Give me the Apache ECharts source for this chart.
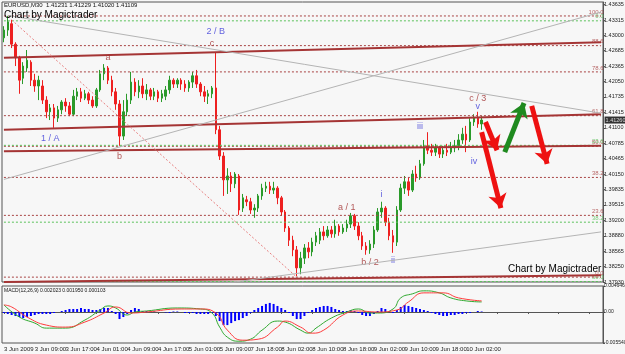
<!DOCTYPE html>
<html>
<head>
<meta charset="utf-8">
<script src="https://cdn.jsdelivr.net/npm/echarts@6/dist/echarts.min.js"></script>
<style>
  html, body { margin: 0; padding: 0; background: #f7f7f7; }
  #main { width: 625px; height: 354px; }
</style>
</head>
<body>
<div id="main"></div>
<script>
// time axis labels, one every 8 bars
var timeLabels = ['3 Jun 2009', '3 Jun 09:00', '3 Jun 17:00', '4 Jun 01:00', '4 Jun 09:00', '4 Jun 17:00',
  '5 Jun 01:00', '5 Jun 09:00', '7 Jun 18:00', '8 Jun 02:00', '8 Jun 10:00', '8 Jun 18:00',
  '9 Jun 02:00', '9 Jun 10:00', '9 Jun 18:00', '10 Jun 02:00'];

var priceTicks = ['1.37930', '1.38250', '1.38565', '1.38880', '1.39200', '1.39515', '1.39835', '1.40150',
  '1.40465', '1.40785', '1.41100', '1.41415', '1.41735', '1.42050', '1.42365', '1.42685', '1.43000',
  '1.43315', '1.43635'];

// open, close, low, high
var candles = [
  [1.4295,1.4311,1.4286,1.4319],[1.4311,1.4328,1.4299,1.4340],[1.4324,1.4282,1.4274,1.4332],
  [1.4282,1.4254,1.4237,1.4286],[1.4254,1.4208,1.4180,1.4258],[1.4212,1.4237,1.4200,1.4245],
  [1.4233,1.4249,1.4225,1.4270],[1.4245,1.4208,1.4196,1.4249],[1.4208,1.4196,1.4184,1.4221],
  [1.4196,1.4208,1.4167,1.4217],[1.4196,1.4167,1.4159,1.4208],[1.4167,1.4143,1.4130,1.4175],
  [1.4143,1.4151,1.4126,1.4159],[1.4151,1.4130,1.4110,1.4159],[1.4130,1.4147,1.4122,1.4155],
  [1.4147,1.4163,1.4138,1.4167],[1.4163,1.4155,1.4143,1.4171],[1.4155,1.4138,1.4134,1.4163],
  [1.4138,1.4175,1.4134,1.4188],[1.4175,1.4184,1.4167,1.4192],[1.4184,1.4171,1.4163,1.4192],
  [1.4171,1.4180,1.4167,1.4188],[1.4180,1.4167,1.4159,1.4184],[1.4167,1.4155,1.4151,1.4175],
  [1.4155,1.4188,1.4151,1.4192],[1.4188,1.4221,1.4184,1.4229],[1.4221,1.4233,1.4208,1.4241],
  [1.4233,1.4208,1.4200,1.4237],[1.4208,1.4184,1.4175,1.4217],[1.4184,1.4159,1.4147,1.4192],
  [1.4159,1.4093,1.4073,1.4167],[1.4093,1.4143,1.4085,1.4167],[1.4143,1.4167,1.4134,1.4180],
  [1.4167,1.4204,1.4159,1.4225],[1.4204,1.4184,1.4175,1.4212],[1.4184,1.4196,1.4171,1.4208],
  [1.4196,1.4180,1.4171,1.4212],[1.4180,1.4188,1.4167,1.4200],[1.4188,1.4175,1.4167,1.4192],
  [1.4175,1.4184,1.4167,1.4192],[1.4184,1.4171,1.4163,1.4188],[1.4171,1.4180,1.4163,1.4188],
  [1.4175,1.4188,1.4167,1.4196],[1.4188,1.4208,1.4180,1.4217],[1.4208,1.4200,1.4192,1.4212],
  [1.4200,1.4208,1.4192,1.4212],[1.4208,1.4200,1.4188,1.4212],[1.4200,1.4192,1.4184,1.4208],
  [1.4192,1.4204,1.4184,1.4208],[1.4204,1.4217,1.4192,1.4225],[1.4217,1.4200,1.4192,1.4229],
  [1.4200,1.4184,1.4175,1.4204],[1.4184,1.4175,1.4163,1.4196],[1.4175,1.4180,1.4159,1.4188],
  [1.4180,1.4192,1.4171,1.4196],[1.4192,1.4106,1.4097,1.4266],[1.4106,1.4052,1.4044,1.4114],
  [1.4052,1.4003,1.3970,1.4060],[1.4003,1.4011,1.3974,1.4027],[1.4011,1.3995,1.3978,1.4019],
  [1.3995,1.4015,1.3986,1.4019],[1.4011,1.3941,1.3931,1.4015],[1.3945,1.3966,1.3937,1.3974],
  [1.3962,1.3958,1.3949,1.3970],[1.3958,1.3941,1.3933,1.3966],[1.3941,1.3945,1.3925,1.3953],
  [1.3945,1.3970,1.3937,1.3974],[1.3970,1.3986,1.3962,1.3995],[1.3986,1.3990,1.3978,1.3999],
  [1.3990,1.3982,1.3974,1.3999],[1.3982,1.3986,1.3974,1.3999],[1.3986,1.3966,1.3953,1.3990],
  [1.3966,1.3937,1.3929,1.3970],[1.3937,1.3904,1.3896,1.3941],[1.3904,1.3879,1.3867,1.3908],
  [1.3879,1.3859,1.3846,1.3888],[1.3859,1.3822,1.3805,1.3867],[1.3822,1.3842,1.3809,1.3855],
  [1.3842,1.3863,1.3830,1.3871],[1.3863,1.3855,1.3842,1.3875],[1.3855,1.3875,1.3846,1.3884],
  [1.3875,1.3888,1.3867,1.3896],[1.3879,1.3896,1.3871,1.3904],[1.3896,1.3888,1.3879,1.3908],
  [1.3888,1.3900,1.3884,1.3908],[1.3900,1.3892,1.3884,1.3908],[1.3892,1.3908,1.3884,1.3921],
  [1.3908,1.3896,1.3888,1.3912],[1.3896,1.3904,1.3892,1.3912],[1.3904,1.3912,1.3896,1.3921],
  [1.3912,1.3929,1.3904,1.3935],[1.3929,1.3908,1.3900,1.3933],[1.3908,1.3888,1.3879,1.3916],
  [1.3888,1.3867,1.3859,1.3896],[1.3867,1.3859,1.3849,1.3875],[1.3859,1.3871,1.3851,1.3879],
  [1.3871,1.3900,1.3863,1.3908],[1.3900,1.3937,1.3896,1.3945],[1.3937,1.3945,1.3925,1.3958],
  [1.3945,1.3916,1.3908,1.3949],[1.3916,1.3888,1.3879,1.3925],[1.3888,1.3875,1.3853,1.3900],
  [1.3875,1.3941,1.3867,1.3949],[1.3941,1.3986,1.3937,1.3995],[1.3986,1.3999,1.3974,1.4011],
  [1.3999,1.3982,1.3970,1.4007],[1.3982,1.4015,1.3978,1.4023],[1.4015,1.4007,1.3999,1.4032],
  [1.4007,1.4036,1.4003,1.4044],[1.4036,1.4069,1.4032,1.4085],[1.4073,1.4064,1.4056,1.4101],
  [1.4064,1.4060,1.4052,1.4077],[1.4060,1.4069,1.4052,1.4077],[1.4069,1.4056,1.4048,1.4073],
  [1.4056,1.4064,1.4048,1.4073],[1.4064,1.4060,1.4052,1.4077],[1.4060,1.4069,1.4056,1.4081],
  [1.4069,1.4073,1.4060,1.4085],[1.4073,1.4085,1.4064,1.4097],[1.4085,1.4097,1.4077,1.4110],
  [1.4097,1.4085,1.4060,1.4114],[1.4085,1.4122,1.4081,1.4130],[1.4122,1.4130,1.4114,1.4138],
  [1.4130,1.4118,1.4110,1.4143],[1.4118,1.4126,1.4106,1.4134]
];

var macdHist = [
  -0.00018,-0.00036,-0.00054,-0.00072,-0.0009,-0.00108,-0.0009,-0.00072,-0.00054,-0.00036,
  -0.00036,-0.00036,-0.00036,-0.00018,0,0.00018,0.00036,0.00054,0.00054,0.00054,
  0.00072,0.00054,0.00054,0.00036,0.00036,0.00054,0.00072,0.00072,0.00018,-0.00036,
  -0.00126,-0.0009,-0.00036,0.00036,0.00072,0.00054,0.00018,0.00018,0.00009,0.00009,
  0,0,-0.00009,-0.00018,0.00009,0.00009,0,-0.00018,-0.00018,-0.00018,
  -0.00036,-0.00036,-0.00036,-0.00036,-0.00018,-0.00072,-0.00162,-0.00234,-0.00234,-0.00198,
  -0.00162,-0.00144,-0.00108,-0.00072,-0.00018,0.00036,0.00072,0.00108,0.00144,0.00162,
  0.00144,0.00108,0.00072,0.00036,-0.00018,-0.00072,-0.00126,-0.00126,-0.00072,-0.00018,
  0.00036,0.00072,0.0009,0.00108,0.00108,0.0009,0.00054,0.00036,0.00018,0.00018,
  0.00036,0.00018,-0.00018,-0.00054,-0.00072,-0.00072,-0.00036,0.00018,0.00072,0.00054,
  0.00018,-0.00018,0.00036,0.0009,0.00126,0.00108,0.0009,0.00072,0.00054,0.00036,
  0.00018,-0.00018,-0.00036,-0.00054,-0.00072,-0.00072,-0.00054,-0.00054,-0.00036,-0.00036,
  -0.00018,-0.00018,0,0.00018,0.00009
];

// [bar index, value]
var macdGreen = [[0,0.00126],[4,-0.0009],[8,-0.00198],[11,-0.00288],[16,-0.00288],[21,-0.00144],
  [25,0.00036],[27,0.00108],[29,0.00072],[32,-0.00054],[34,0],[37,0.00018],[45,0.00072],[51,0.00054],
  [54,-0.00018],[56,-0.0027],[58,-0.0045],[61,-0.00522],[64,-0.00486],[67,-0.00324],[71,-0.00162],
  [73,-0.0018],[77,-0.00324],[79,-0.00378],[81,-0.00288],[85,-0.00108],[89,0],[92,0.00054],
  [95,-0.00018],[97,-0.00018],[101,0.00054],[103,0.00252],[106,0.00324],[109,0.00378],[113,0.00342],
  [116,0.00252],[120,0.00198],[124,0.0018]];
var macdRed = [[0,0.00126],[2,0.0009],[6,-0.0009],[11,-0.00234],[16,-0.0027],[21,-0.0018],
  [26,-0.00018],[29,0.0009],[33,-0.00018],[37,0],[46,0.00054],[51,0.00054],[55,-0.00018],
  [58,-0.00324],[62,-0.00504],[66,-0.00486],[71,-0.0027],[73,-0.00162],[77,-0.0027],[80,-0.00378],
  [83,-0.00324],[88,-0.00054],[92,0.00018],[97,0],[102,0.00036],[105,0.0018],[109,0.00342],
  [114,0.00342],[118,0.00252],[124,0.00198]];
var macdTicks = [0.004646, 0, -0.00554];

var redFibNames = ['0.0', '23.6', '38.2', '50.0', '61.8', '78.6', '88.6', '100.0'];
var redFibPrices = [1.3803, 1.3930, 1.4008, 1.4072, 1.4135, 1.4225, 1.4279, 1.4340];
var greenFibNames = ['0.0', '23.6', '38.2', '50.0'];
var greenFibPrices = [1.4330, 1.4074, 1.3916, 1.3794];

// solid channel lines, grey trend lines, dotted fan line: [[index, price], [index, price]]
var channelLines = [
  [[0, 1.4254], [155, 1.4286]],
  [[0, 1.4106], [155, 1.4138]],
  [[0, 1.4062], [155, 1.4073]],
  [[0, 1.3793], [155, 1.3807]]
];
var greyLines = [
  [[1, 1.4341], [155, 1.4140]],
  [[0, 1.4004], [155, 1.4348]],
  [[58, 1.3791], [155, 1.3896]]
];
var dottedLine = [[2, 1.4332], [76, 1.3803]];

var redArrows = [
  [[125, 1.4122], [128, 1.4064]],
  [[124, 1.4101], [129, 1.3945]],
  [[137, 1.4155], [141, 1.4036]]
];
var greenArrows = [
  [[130, 1.4060], [135, 1.4161]]
];

// [index, price, text]
var blueLabels = [[55, 1.4309, '2 / B'], [12, 1.4087, '1 / A'], [98, 1.3972, 'i'], [101, 1.3838, 'ii'],
  [108, 1.4112, 'iii'], [122, 1.4040, 'iv'], [123, 1.4153, 'v']];
var redLabels = [[54, 1.4284, 'c'], [27, 1.4254, 'a'], [30, 1.4050, 'b'], [89, 1.3947, 'a / 1'],
  [95, 1.3834, 'b / 2'], [123, 1.4171, 'c / 3']];

var nBars = 156;
var cats = [];
for (var i = 0; i < nBars; i++) cats.push('b' + i);
var lastClose = candles[candles.length - 1][1];

var tickFont = "'Liberation Sans Narrow', 'Liberation Sans', sans-serif";
var clear = 'rgba(0,0,0,0)';

function lineSeries(pts, color, width, type) {
  return {
    type: 'line', xAxisIndex: 0, yAxisIndex: 0, data: pts, symbol: 'none', silent: true,
    lineStyle: { color: color, width: width, type: type }
  };
}

function arrowSeries(list, color) {
  return {
    type: 'line', xAxisIndex: 0, yAxisIndex: 0, data: [], silent: true,
    markLine: {
      symbol: ['none', 'arrow'], symbolSize: 14, silent: true,
      label: { show: false },
      lineStyle: { color: color, width: 5, type: 'solid' },
      data: list.map(function (a) { return [{ coord: a[0] }, { coord: a[1] }]; })
    }
  };
}

function labelSeries(list, color) {
  return {
    type: 'scatter', xAxisIndex: 0, yAxisIndex: 0, symbolSize: 1, silent: true,
    itemStyle: { color: clear },
    data: list,
    label: {
      show: true, position: 'inside', color: color, fontSize: 9, fontFamily: 'Liberation Sans',
      formatter: function (p) { return p.value[2]; }
    }
  };
}

// each fib level is a flat line across the plot plus a small label at its right end
function fibSeries(names, prices, color) {
  var out = [];
  prices.forEach(function (p) {
    out.push({
      type: 'line', xAxisIndex: 0, yAxisIndex: 0, data: [[0, p], [nBars - 1, p]], symbol: 'none', silent: true,
      lineStyle: { color: color, width: 1, type: [2, 2] }
    });
  });
  out.push({
    type: 'scatter', xAxisIndex: 0, yAxisIndex: 0, symbolSize: 1, silent: true,
    itemStyle: { color: clear },
    data: prices.map(function (p, k) { return [nBars - 1, p, names[k]]; }),
    label: {
      show: true, position: 'left', distance: 0, offset: [3, -4], color: color, fontSize: 6, fontFamily: tickFont,
      formatter: function (q) { return q.value[2]; }
    }
  });
  return out;
}

var series = [];
series = series.concat(fibSeries(redFibNames, redFibPrices, '#a84444'));
series = series.concat(fibSeries(greenFibNames, greenFibPrices, '#5cc25c'));
channelLines.forEach(function (l) { series.push(lineSeries(l, '#a53535', 2, 'solid')); });
greyLines.forEach(function (l) { series.push(lineSeries(l, '#b4b4b4', 1, 'solid')); });
series.push(lineSeries(dottedLine, '#e88080', 1, [2, 2]));
series.push({
  type: 'candlestick', xAxisIndex: 0, yAxisIndex: 0, data: candles, barWidth: 2,
  itemStyle: { color: '#2a9a2a', color0: '#ee2020', borderColor: '#2a9a2a', borderColor0: '#ee2020', borderWidth: 1 }
});
// last price tag on the right axis
series.push({
  type: 'scatter', xAxisIndex: 0, yAxisIndex: 0, symbolSize: 1, silent: true, clip: false, z: 10,
  itemStyle: { color: clear },
  data: [[nBars - 1, lastClose]],
  label: {
    show: true, position: 'right', distance: 3, color: '#fff', backgroundColor: '#000',
    padding: [1, 1, 0, 1], fontSize: 5.5, fontFamily: tickFont,
    formatter: function (p) { return p.value[1].toFixed(5); }
  }
});
series.push(arrowSeries(redArrows, '#ee1111'));
series.push(arrowSeries(greenArrows, '#1f8a1f'));
series.push(labelSeries(blueLabels, '#3a3ad8'));
series.push(labelSeries(redLabels, '#a03030'));
series.push({
  type: 'bar', xAxisIndex: 1, yAxisIndex: 1, data: macdHist, barWidth: 2,
  itemStyle: { color: '#0000ff' }, silent: true
});
series.push({
  type: 'line', xAxisIndex: 1, yAxisIndex: 1, data: macdGreen, smooth: true, symbol: 'none',
  lineStyle: { color: '#2fa82f', width: 1 }, silent: true
});
series.push({
  type: 'line', xAxisIndex: 1, yAxisIndex: 1, data: macdRed, smooth: true, symbol: 'none',
  lineStyle: { color: '#ff3b3b', width: 1 }, silent: true
});

var chart = echarts.init(document.getElementById('main'));
chart.setOption({
  animation: false,
  backgroundColor: '#f7f7f7',
  grid: [
    { left: 2, right: 22, top: 2, height: 280, show: true, borderColor: '#555', borderWidth: 1,
      backgroundColor: '#f7f7f7', outerBoundsMode: 'none', containLabel: false },
    { left: 2, right: 22, top: 286, height: 57, show: true, borderColor: '#555', borderWidth: 1,
      backgroundColor: '#f7f7f7', outerBoundsMode: 'none', containLabel: false }
  ],
  xAxis: [
    { gridIndex: 0, type: 'category', data: cats, boundaryGap: true,
      axisLine: { show: false }, axisTick: { show: false }, axisLabel: { show: false }, splitLine: { show: false } },
    { gridIndex: 1, type: 'category', data: cats, boundaryGap: true,
      axisLine: { show: true, lineStyle: { color: '#555' } },
      axisTick: { show: true, interval: 7, alignWithLabel: true, length: 2, lineStyle: { color: '#555' } },
      axisLabel: {
        interval: 7, align: 'left', fontSize: 6, margin: 3, color: '#222', fontFamily: tickFont,
        showMinLabel: true, hideOverlap: false,
        formatter: function (v, idx) { return timeLabels[idx / 8] || ''; }
      },
      splitLine: { show: false } }
  ],
  yAxis: [
    { gridIndex: 0, type: 'value', position: 'right', min: 1.3793, max: 1.43687,
      splitLine: { show: false },
      axisLine: { show: true, lineStyle: { color: '#555' } },
      axisTick: { show: true, length: 2, customValues: priceTicks.map(Number), lineStyle: { color: '#555' } },
      axisLabel: { customValues: priceTicks.map(Number), fontSize: 5.5, margin: 1, color: '#222', fontFamily: tickFont,
        formatter: function (v) { return v.toFixed(5); } } },
    { gridIndex: 1, type: 'value', position: 'right', min: -0.00554, max: 0.004646,
      splitLine: { show: false },
      axisLine: { show: true, lineStyle: { color: '#555' } },
      axisTick: { show: true, length: 2, customValues: macdTicks, lineStyle: { color: '#555' } },
      axisLabel: { customValues: macdTicks, fontSize: 5, margin: 1, color: '#222', fontFamily: tickFont,
        formatter: function (v) { return v === 0 ? '0.00' : v.toFixed(6); } } }
  ],
  graphic: [
    { type: 'text', left: 4, top: 2, silent: true, z: 100,
      style: { text: 'EURUSD,M30  1.41231 1.41229 1.41020 1.41109', fill: '#111', font: "6px 'Liberation Sans', sans-serif" } },
    { type: 'text', left: 4, top: 10, silent: true, z: 100,
      style: { text: 'Chart by Magictrader', fill: '#000', font: "10px 'Liberation Sans', sans-serif" } },
    { type: 'text', left: 508, top: 264, silent: true, z: 100,
      style: { text: 'Chart by Magictrader', fill: '#000', font: "10px 'Liberation Sans', sans-serif" } },
    { type: 'text', left: 4, top: 288, silent: true, z: 100,
      style: { text: 'MACD(12,26,9) 0.002023 0.001950 0.000103', fill: '#111', font: "5px 'Liberation Sans', sans-serif" } }
  ],
  series: series
});
</script>
</body>
</html>
